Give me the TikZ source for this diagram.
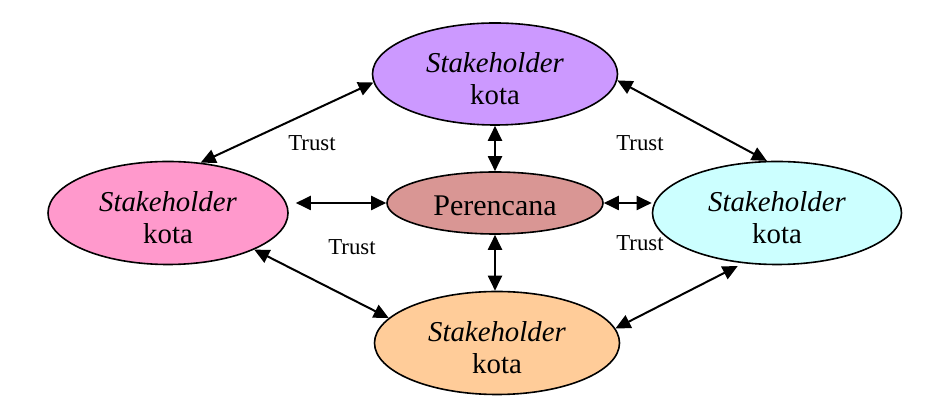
\documentclass[tikz,border=0pt]{standalone}
\usepackage{fontspec}
\setmainfont{Liberation Serif}
\usetikzlibrary{shapes.geometric,arrows.meta}
\definecolor{lilac}{RGB}{204,153,255}
\definecolor{rosepink}{RGB}{255,153,204}
\definecolor{oldrose}{RGB}{217,150,148}
\definecolor{palecyan}{RGB}{204,255,255}
\definecolor{peach}{RGB}{255,204,153}
\newcommand{\skota}{\rule{0pt}{15pt}\textit{Stakeholder}\\kota}
\begin{document}
\begin{tikzpicture}
  [x=0.5pt,y=-0.5pt,
   sh/.style={ellipse,draw,line width=0.8pt,inner sep=0pt,align=center,
     font=\fontsize{14.4}{16}\selectfont},
   trust/.style={font=\fontsize{11.4}{13}\selectfont,anchor=base},
   twoway/.style={line width=1pt,{Triangle[length=7.5pt,width=7pt]}-{Triangle[length=7.5pt,width=7pt]}}]
  \useasboundingbox (0,0) rectangle (947,415);

  \node[sh,fill=lilac,minimum width=122.5pt,minimum height=51pt] (top) at (495,74) {\skota};
  \node[sh,fill=rosepink,minimum width=120pt,minimum height=51.5pt] (left) at (168,213) {\skota};
  \node[sh,fill=oldrose,minimum width=108pt,minimum height=31pt,font=\fontsize{15}{17}\selectfont] (ctr) at (495,203) {\rule{0pt}{13pt}Perencana};
  \node[sh,fill=palecyan,minimum width=124.5pt,minimum height=51.5pt] (right) at (777,213) {\skota};
  \node[sh,fill=peach,minimum width=122.5pt,minimum height=51.5pt] (bot) at (497,343) {\skota};

  \node[trust] (t1) at (312,151) {Trust};
  \node[trust] (t2) at (640,151) {Trust};
  \node[trust] (t3) at (352,255) {Trust};
  \node[trust] (t4) at (640,251) {Trust};

  \foreach \from/\to in {top.184/left.57,top.357/right.101,left.337/bot.167}
    \draw[twoway] (\from) -- (\to);
  \draw[twoway,shorten >=3pt] (bot.7) -- (right.236);

  \draw[twoway] (top.south) -- (ctr.north);
  \draw[twoway] (ctr.south) -- (ctr.south |- bot.north);
  \draw[twoway,shorten <=3.5pt] (ctr.west -| left.east) -- (ctr.west);
  \draw[twoway] (ctr.east) -- (ctr.east -| right.west);

\end{tikzpicture}
\end{document}
